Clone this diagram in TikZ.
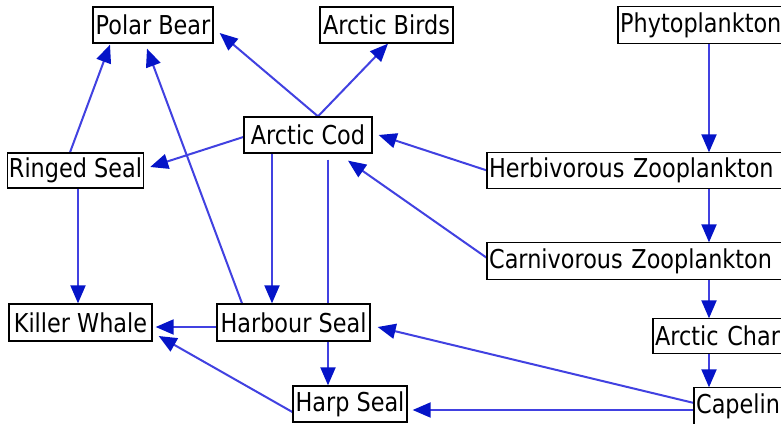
\documentclass[tikz,border=0pt]{standalone}
\usepackage{fontspec}
\setmainfont{DejaVu Sans}[FakeStretch=0.86]
\usetikzlibrary{arrows.meta,calc,backgrounds}
\definecolor{lineblue}{RGB}{65,65,225}
\definecolor{headblue}{RGB}{5,20,200}
\tikzset{
  box/.style={draw=black, line width=1.3pt, fill=white, inner xsep=1.5pt, inner ysep=0pt,
    font=\fontsize{26}{30}\selectfont},
  cutbox/.style={box, draw=none, fill=none, anchor=west, text width=330pt, align=left},
  cutedge/.style={draw=black, line width=1.3pt},
  link/.style={draw=lineblue, line width=2pt,
    -{Triangle[length=18pt,width=15pt,fill=headblue,color=headblue]}},
}
\begin{document}
\begin{tikzpicture}[x=1pt,y=-1pt]
\useasboundingbox (0,0) rectangle (781,423);
\coordinate (col) at (709,0);
\coordinate (edge) at (780.9,0);
% nodes
\node[box, minimum width=120pt, minimum height=36pt] (pb) at (153,25) {Polar Bear};
\node[box, minimum width=133pt, minimum height=36pt] (ab) at (386.5,25) {Arctic Birds};
\node[cutbox, minimum height=36pt] (ph) at (618,25) {Phytoplankton};
\node[box, minimum width=128pt, minimum height=36pt] (ac) at (308,135) {Arctic Cod};
\node[box, minimum width=133pt, minimum height=35pt] (rs) at (75.5,170.5) {Ringed Seal};
\node[cutbox, minimum height=35pt] (hz) at (487,170.5) {Herbivorous Zooplankton};
\node[cutbox, minimum height=36pt] (cz) at (487,261) {Carnivorous Zooplankton};
\node[box, minimum width=143pt, minimum height=37pt] (kw) at (80.5,322.5) {Killer Whale};
\node[box, minimum width=153pt, minimum height=37pt] (hs) at (293.5,322.5) {Harbour Seal};
\node[cutbox, minimum height=34pt] (ach) at (653,336) {Arctic Char};
\node[box, minimum width=114pt, minimum height=36pt] (hps) at (350,404) {Harp Seal};
\node[cutbox, minimum height=36pt] (cap) at (694,406) {Capelin};
% borders of the boxes that run past the right edge
\foreach \n in {ph,hz,cz,ach}
  \draw[cutedge] (\n.north west -| edge) -- (\n.north west) -- (\n.south west) -- (\n.south west -| edge);
\draw[cutedge] (cap.north west -| edge) -- (cap.north west) -- (cap.south west);
% connectors
\begin{scope}[on background layer]
\fill[white] (0,0) rectangle (781,423);
\draw[link] ($(rs.north)+(-5.5,0)$) -- ($(pb.south)+(-43,1)$);
\draw[link] ($(hs.north)+(-51.5,0)$) -- ($(pb.south)+(-6,5)$);
\draw[link] ($(ac.north)+(10,0)$) -- ($(pb.east)+(6,8)$);
\draw[link] ($(ac.north)+(10,0)$) -- ($(ab.south)+(1.5,0)$);
\draw[link] ($(ac.west)+(0,2)$) -- ($(rs.east)+(6,-3.5)$);
\draw[link] ($(ac.south)+(-36,0)$) -- ($(hs.north)+(-21.5,0)$);
\draw[link] ($(ac.south)+(20,6)$) -- ($(hps.north)+(-22,0)$);
\draw[link] (hz.west) -- ($(ac.east)+(6,0)$);
\draw[link] ($(cz.west)+(0,-3)$) -- ($(ac.south)+(40,7)$);
\draw[link] (ph.south west -| col) -- (hz.north west -| col);
\draw[link] (hz.south west -| col) -- (cz.north west -| col);
\draw[link] (cz.south west -| col) -- (ach.north west -| col);
\draw[link] (ach.south west -| col) -- (cap.north west -| col);
\draw[link] ($(rs.south)+(2.5,0)$) -- ($(kw.north)+(-2.5,0)$);
\draw[link] ($(hs.west)+(0,4.5)$) -- ($(kw.east)+(3,4.5)$);
\draw[link] ($(hps.west)+(0,8)$) -- ($(kw.east)+(6,13.5)$);
\draw[link] ($(cap.west)+(0,-3)$) -- ($(hs.east)+(7,4.5)$);
\draw[link] ($(cap.west)+(0,4)$) -- ($(hps.east)+(5,6)$);
\end{scope}
\end{tikzpicture}
\end{document}
